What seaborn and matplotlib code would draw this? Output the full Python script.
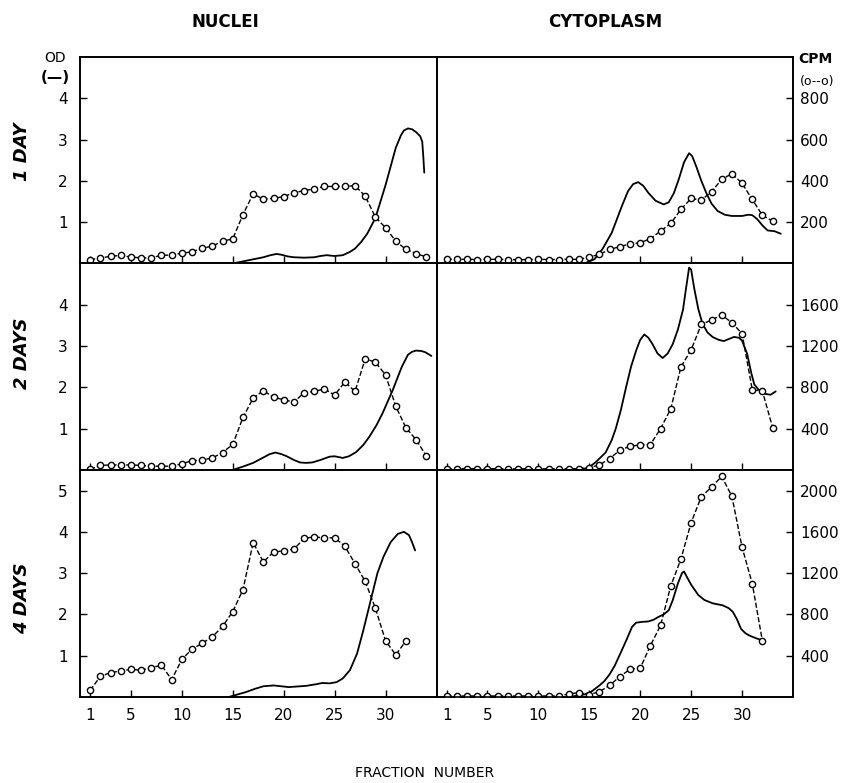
import matplotlib
matplotlib.use("Agg")
import matplotlib.pyplot as plt
import seaborn as sns

# ---- data ----
# CPM series (dashed line, open circles), one value per fraction
nuc_frac_1d = list(range(1, 35))
nuc_cpm_1d = [19, 26, 35, 39, 31, 27, 27, 40, 40, 50, 56, 74, 84, 108, 119, 237, 337,
              311, 315, 324, 342, 353, 361, 373, 373, 373, 377, 326, 224, 173, 108, 68, 48, 31]
cyt_frac_1d = list(range(1, 34))
cyt_cpm_1d = [20, 20, 20, 19, 20, 20, 19, 18, 19, 20, 19, 19, 20, 20, 31, 44, 68, 81,
              95, 100, 120, 157, 194, 262, 315, 306, 348, 407, 435, 388, 310, 233, 205]

nuc_frac_2d = list(range(1, 35))
nuc_cpm_2d = [4, 44, 48, 48, 48, 44, 36, 36, 36, 60, 88, 96, 116, 168, 248, 508, 696,
              768, 704, 680, 656, 748, 760, 784, 724, 852, 760, 1076, 1044, 920, 616,
              408, 292, 136]
cyt_frac_2d = list(range(1, 34))
cyt_cpm_2d = [12, 12, 12, 12, 12, 12, 12, 10, 12, 12, 10, 10, 12, 12, 22, 48, 110, 190,
              229, 242, 246, 400, 591, 998, 1163, 1409, 1452, 1501, 1426, 1320, 778, 762, 410]

nuc_frac_4d = list(range(1, 33))
nuc_cpm_4d = [64, 200, 236, 252, 268, 260, 284, 308, 168, 364, 464, 520, 584, 684, 828,
              1040, 1496, 1308, 1404, 1416, 1432, 1536, 1552, 1540, 1544, 1460, 1292,
              1120, 860, 544, 408, 544]
cyt_frac_4d = list(range(1, 33))
cyt_cpm_4d = [10, 10, 10, 10, 10, 10, 10, 10, 10, 10, 10, 10, 31, 41, 24, 51, 113, 198,
              269, 279, 498, 694, 1076, 1337, 1690, 1941, 2033, 2137, 1945, 1451, 1099, 540]

# OD series (solid line), traced points
nuc_od_x_1d = [15, 16, 17, 18, 18.7, 19.3, 19.8, 20.4, 21, 22, 23, 23.6, 24.2, 25, 25.8,
               26.5, 27, 27.6, 28.2, 29, 30, 31, 31.5, 31.8, 32.2, 32.6, 33.0, 33.4, 33.6,
               33.7, 33.8]
nuc_od_y_1d = [0, 0.05, 0.1, 0.15, 0.2, 0.23, 0.21, 0.17, 0.15, 0.14, 0.15, 0.18, 0.2,
               0.18, 0.2, 0.28, 0.36, 0.52, 0.72, 1.1, 1.9, 2.8, 3.1, 3.22, 3.27, 3.25,
               3.18, 3.08, 2.95, 2.6, 2.2]
cyt_od_x_1d = [14.5, 15.5, 16.3, 17.2, 18.2, 18.8, 19.3, 19.8, 20.3, 20.8, 21.5, 22.3,
               22.8, 23.3, 23.8, 24.3, 24.8, 25.1, 25.5, 26.0, 26.5, 27.0, 27.6, 28.3,
               29.0, 30.0, 30.6, 31.0, 31.5, 32.0, 32.5, 33.2, 33.8]
cyt_od_y_1d = [0, 0.1, 0.35, 0.74, 1.39, 1.75, 1.92, 1.97, 1.88, 1.71, 1.52, 1.43, 1.48,
               1.7, 2.05, 2.45, 2.67, 2.6, 2.35, 2.0, 1.7, 1.45, 1.27, 1.18, 1.15, 1.15,
               1.18, 1.17, 1.07, 0.92, 0.8, 0.78, 0.72]

nuc_od_x_2d = [15, 16, 17, 18, 18.6, 19.2, 19.8, 20.3, 21, 21.6, 22.2, 22.8, 23.6, 24.5,
               25, 25.8, 26.4, 27.1, 27.8, 28.4, 29.1, 29.7, 30.2, 30.7, 31.2, 31.6, 32.2,
               32.6, 33.0, 33.5, 33.9, 34.5]
nuc_od_y_2d = [0, 0.08, 0.17, 0.3, 0.38, 0.42, 0.38, 0.33, 0.24, 0.18, 0.17, 0.18, 0.24,
               0.32, 0.33, 0.29, 0.33, 0.43, 0.6, 0.8, 1.08, 1.37, 1.65, 1.93, 2.25, 2.50,
               2.79, 2.86, 2.89, 2.88, 2.85, 2.76]
cyt_od_x_2d = [14.2, 15, 15.6, 16.6, 17.2, 17.6, 18.1, 18.6, 19.1, 19.6, 20.0, 20.4, 20.8,
               21.2, 21.7, 22.2, 22.7, 23.2, 23.7, 24.2, 24.5, 24.8, 25.0, 25.3, 25.7,
               26.1, 26.6, 27.1, 27.7, 28.2, 28.7, 29.2, 29.7, 30.0, 30.5, 30.9, 31.2,
               31.6, 31.9, 32.3, 32.8, 33.3]
cyt_od_y_2d = [0, 0.07, 0.18, 0.42, 0.72, 1.0, 1.45, 1.99, 2.5, 2.89, 3.15, 3.28, 3.2,
               3.05, 2.82, 2.71, 2.82, 3.05, 3.4, 3.88, 4.4, 4.9, 4.85, 4.4, 3.9, 3.55,
               3.33, 3.22, 3.15, 3.12, 3.17, 3.22, 3.2, 3.13, 2.81, 2.35, 2.07, 1.95,
               1.90, 1.84, 1.82, 1.90]

nuc_od_x_4d = [14.6, 16.3, 17.2, 18, 19, 20.5, 22.2, 23.2, 23.8, 24.5, 25.2, 25.8, 26.5,
               27.2, 27.8, 28.3, 28.7, 29.2, 29.8, 30.5, 31.2, 31.8, 32.3, 32.6, 32.9]
nuc_od_y_4d = [0, 0.12, 0.2, 0.26, 0.28, 0.24, 0.27, 0.31, 0.34, 0.33, 0.36, 0.45, 0.65,
               1.05, 1.6, 2.1, 2.5, 3.0, 3.4, 3.75, 3.95, 4.0, 3.92, 3.75, 3.55]
cyt_od_x_4d = [13, 14.5, 15.2, 16, 16.5, 17, 17.5, 18.1, 18.7, 19.2, 19.6, 20.2, 20.8,
               21.3, 21.8, 22.3, 22.8, 23.2, 23.7, 24.1, 24.3, 24.6, 25.0, 25.7, 26.3,
               27.1, 28.1, 28.7, 29.1, 29.5, 29.9, 30.3, 30.7, 31.3, 32.0]
cyt_od_y_4d = [0, 0.06, 0.13, 0.28, 0.39, 0.55, 0.76, 1.08, 1.41, 1.7, 1.8, 1.82, 1.83,
               1.87, 1.94, 2.0, 2.10, 2.35, 2.75, 3.0, 3.04, 2.9, 2.72, 2.47, 2.35, 2.27,
               2.22, 2.15, 2.06, 1.88, 1.65, 1.55, 1.49, 1.43, 1.37]

row_labels = ["1 DAY", "2 DAYS", "4 DAYS"]
od_max = [5, 5, 5.5]
cpm_max = [1000, 2000, 2200]
od_ticks = [[1, 2, 3, 4], [1, 2, 3, 4], [1, 2, 3, 4, 5]]
cpm_ticks = [[200, 400, 600, 800], [400, 800, 1200, 1600], [400, 800, 1200, 1600, 2000]]
x_ticks = [1, 5, 10, 15, 20, 25, 30]

panels = [
    [(nuc_frac_1d, nuc_cpm_1d, nuc_od_x_1d, nuc_od_y_1d),
     (cyt_frac_1d, cyt_cpm_1d, cyt_od_x_1d, cyt_od_y_1d)],
    [(nuc_frac_2d, nuc_cpm_2d, nuc_od_x_2d, nuc_od_y_2d),
     (cyt_frac_2d, cyt_cpm_2d, cyt_od_x_2d, cyt_od_y_2d)],
    [(nuc_frac_4d, nuc_cpm_4d, nuc_od_x_4d, nuc_od_y_4d),
     (cyt_frac_4d, cyt_cpm_4d, cyt_od_x_4d, cyt_od_y_4d)],
]

sns.set_theme(style="white")
plt.rcParams['font.family'] = ['DejaVu Sans']
plt.rcParams['text.color'] = 'black'
plt.rcParams['xtick.color'] = 'black'
plt.rcParams['ytick.color'] = 'black'
plt.rcParams['axes.labelcolor'] = 'black'

fig = plt.figure(figsize=(8.5, 7.83), dpi=100)
gs = fig.add_gridspec(3, 2, left=80 / 850, right=793 / 850, top=1 - 57 / 783,
                      bottom=1 - 697 / 783, wspace=0, hspace=0, height_ratios=od_max)

for r in range(3):
    for c in range(2):
        frac, cpm, odx, ody = panels[r][c]
        ax = fig.add_subplot(gs[r, c])
        tw = ax.twinx()

        sns.lineplot(x=odx, y=ody, ax=ax, color="black", linewidth=1.3, sort=False)
        sns.lineplot(x=frac, y=cpm, ax=tw, color="black", linewidth=1.0, linestyle="--",
                     marker="o", markersize=4.5, markerfacecolor="white",
                     markeredgecolor="black", markeredgewidth=1.0, sort=False)

        ax.set_xlim(0, 35)
        ax.set_ylim(0, od_max[r])
        tw.set_ylim(0, cpm_max[r])
        ax.set_xlabel("")
        ax.set_ylabel("")
        tw.set_ylabel("")

        ax.set_xticks(x_ticks)
        ax.tick_params(axis="x", direction="in", length=5, width=1, pad=8, labelsize=11,
                       bottom=True, labelbottom=(r == 2))
        if c == 0:
            ax.set_yticks(od_ticks[r])
            ax.tick_params(axis="y", direction="in", length=5, width=1, pad=9,
                           labelsize=11, left=True)
            tw.set_yticks([])
        else:
            ax.set_yticks([])
            tw.set_yticks(cpm_ticks[r])
            tw.tick_params(axis="y", direction="in", length=5, width=1, pad=5,
                           labelsize=11, right=True)

        for a in (ax, tw):
            for s in a.spines.values():
                s.set_color("black")
                s.set_linewidth(1.2)

# column titles, row labels and axis captions
fig.text(225 / 850, 1 - 22 / 783, "NUCLEI", ha="center", va="center", fontsize=12,
         fontweight="bold")
fig.text(605 / 850, 1 - 22 / 783, "CYTOPLASM", ha="center", va="center", fontsize=12,
         fontweight="bold")
for lab, yc in zip(row_labels, [152, 353, 598]):
    fig.text(22 / 850, 1 - yc / 783, lab, ha="center", va="center", rotation=90,
             fontsize=13, style="italic", fontweight="bold")
fig.text(55 / 850, 1 - 58 / 783, "OD", ha="center", va="center", fontsize=10)
fig.text(55 / 850, 1 - 78 / 783, "(\u2014)", ha="center", va="center", fontsize=11,
         fontweight="bold")
fig.text(815 / 850, 1 - 59 / 783, "CPM", ha="center", va="center", fontsize=10,
         fontweight="bold")
fig.text(817 / 850, 1 - 81 / 783, "(o--o)", ha="center", va="center", fontsize=9)
fig.text(425 / 850, 1 - 773 / 783, "FRACTION  NUMBER", ha="center", va="center",
         fontsize=10)

fig.savefig("out.png", dpi=100, facecolor="white")
